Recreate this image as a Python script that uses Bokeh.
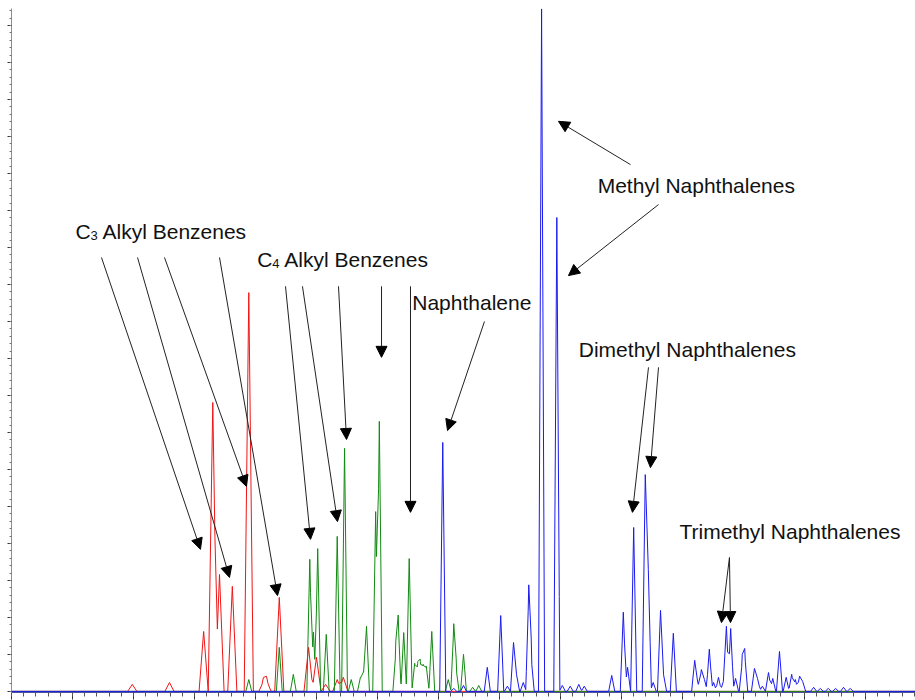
import numpy as np
from bokeh.plotting import figure
from bokeh.models import (Range1d, SingleIntervalTicker, Label, Arrow, NormalHead,
                          CustomJSTickFormatter)
from bokeh.embed import file_html
from bokeh.resources import INLINE

# ---------------- data (retention time in min, peak height in arbitrary units) ----------------
red_rt = [1.98, 2.59, 3.15, 3.30, 3.41, 3.62, 3.89, 4.13, 4.18, 4.39, 4.87, 5.00, 5.15, 5.34, 5.44]
red_h = [0.19, 0.24, 1.62, 7.81, 3.16, 2.84, 10.78, 0.27, 0.32, 2.54, 1.19, 0.92, 0.19, 0.32, 0.38]

green_rt = [3.89, 4.39, 4.62, 4.89, 4.95, 5.02, 5.16, 5.34, 5.46, 5.57, 5.72, 5.77, 5.82,
            5.97, 6.03, 6.30, 6.34, 6.43, 6.52, 6.61, 6.66, 6.70, 6.75, 6.80, 6.89,
            7.16, 7.25, 7.29, 7.41, 7.56, 7.66]
green_h = [0.32, 1.19, 0.46, 3.57, 1.60, 3.86, 1.54, 4.19, 6.57, 0.32, 0.38, 0.54, 1.76,
           4.86, 7.30, 1.05, 1.89, 1.59, 3.59, 0.76, 0.68, 0.76, 0.73, 0.68, 1.62,
           0.32, 1.73, 0.60, 1.00, 0.11, 0.16]

blue_rt = [7.07, 7.25, 7.41, 7.80, 8.02, 8.13, 8.23, 8.28, 8.39, 8.48, 8.52, 8.69, 8.94,
           9.03, 9.16, 9.30, 9.39, 9.84, 10.03, 10.10, 10.20, 10.39, 10.44, 10.52, 10.64,
           10.69, 10.85, 11.20, 11.25, 11.31, 11.36, 11.44, 11.51, 11.59, 11.67, 11.72,
           11.79, 11.87, 11.98, 12.02, 12.18, 12.23, 12.31, 12.41, 12.48, 12.59, 12.70,
           12.79, 12.85, 12.92, 12.97, 13.15, 13.26, 13.39, 13.51, 13.64, 13.75]
blue_h = [6.73, 0.08, 0.16, 0.65, 2.05, 0.14, 1.32, 0.45, 0.24, 2.70, 0.90, 18.45, 12.81,
          0.16, 0.14, 0.19, 0.14, 0.43, 2.14, 0.65, 4.43, 5.86, 3.30, 0.24, 2.19,
          0.45, 1.57, 0.84, 0.24, 0.59, 0.32, 1.14, 0.24, 0.38, 0.27, 1.76,
          1.70, 0.35, 0.80, 1.00, 0.62, 0.35, 0.14, 0.51, 0.35, 1.08, 0.38,
          0.46, 0.32, 0.41, 0.27, 0.11, 0.08, 0.08, 0.08, 0.11, 0.08]

X_END = 14.82
Y_START = -0.03
Y_END = 18.46


def trace(rts, hs, hw):
    """Piecewise-linear chromatogram outline from a peak table (exact vertices)."""
    pts = {0.0, X_END}
    for r in rts:
        pts.update((r - hw, r, r + hw))
    xs = np.array(sorted(q for q in pts if 0.0 <= q <= X_END))
    ys = np.zeros_like(xs)
    for r, h in zip(rts, hs):
        ys += h * np.clip(1.0 - np.abs(xs - r) / hw, 0.0, None)
    return xs, ys


p = figure(width=915, height=700, output_backend="svg", toolbar_location=None,
           x_range=Range1d(0, X_END), y_range=Range1d(Y_START, Y_END),
           min_border_left=11, min_border_right=0, min_border_top=8, min_border_bottom=8)
p.outline_line_color = None
p.grid.visible = False
p.background_fill_color = "white"

# axes
for ax in (p.xaxis[0], p.yaxis[0]):
    ax.formatter = CustomJSTickFormatter(code="return ''")
    ax.major_label_text_font_size = "0px"
    ax.major_label_standoff = 0
    ax.major_tick_in = 0
    ax.minor_tick_in = 0
p.xaxis.ticker = SingleIntervalTicker(interval=1, num_minor_ticks=5)
p.yaxis.ticker = SingleIntervalTicker(interval=1, num_minor_ticks=5)
p.xaxis.major_tick_out = 7
p.xaxis.minor_tick_out = 4
p.xaxis.axis_line_color = "#5050a0"
p.xaxis.major_tick_line_color = "#333333"
p.xaxis.minor_tick_line_color = "#555555"
p.yaxis.major_tick_out = 4
p.yaxis.minor_tick_out = 2
p.yaxis.axis_line_color = "#8c8c8c"
p.yaxis.major_tick_line_color = "#333333"
p.yaxis.minor_tick_line_color = "#777777"

# traces
rx, ry = trace(red_rt, red_h, 0.075)
gx, gy = trace(green_rt, green_h, 0.048)
bx, by = trace(blue_rt, blue_h, 0.05)
p.line(rx, ry, line_color="#f01515", line_width=1)
p.line(gx, gy, line_color="#128a12", line_width=1)
p.line(bx, by, line_color="#1a1aee", line_width=1)

FONT = "Liberation Sans"
FS = "21px"
LIFT = 7  # px


def label(x, y, txt, size=FS, xo=0, yo=0):
    p.add_layout(Label(x=x, y=y, text=txt, text_font=FONT, text_font_size=size,
                       text_color="#111111", text_baseline="alphabetic", text_align="left",
                       x_offset=xo, y_offset=yo + LIFT))


def arrow(x0, y0, x1, y1):
    p.add_layout(Arrow(x_start=x0, y_start=y0, x_end=x1, y_end=y1,
                       line_color="#222222", line_width=1,
                       end=NormalHead(size=11, fill_color="black", line_color="black")))


# C3 alkyl benzenes
label(1.05, 12.24, "C")
label(1.05, 12.24, "3", size="13px", xo=15, yo=-4)
label(1.05, 12.24, "Alkyl Benzenes", xo=27)
arrow(1.475, 11.73, 3.098, 3.84)
arrow(2.066, 11.73, 3.574, 3.08)
arrow(2.508, 11.73, 3.852, 5.54)
arrow(3.41, 11.73, 4.361, 2.59)

# C4 alkyl benzenes
label(4.03, 11.49, "C")
label(4.03, 11.49, "4", size="13px", xo=15, yo=-4)
label(4.03, 11.49, "Alkyl Benzenes", xo=27)
arrow(4.492, 10.95, 4.902, 4.11)
arrow(4.770, 10.95, 5.344, 4.59)
arrow(5.361, 10.95, 5.492, 6.81)
arrow(6.066, 10.95, 6.066, 9.03)
arrow(6.541, 10.95, 6.541, 4.84)

# Naphthalene
label(6.57, 10.32, "Naphthalene")
arrow(7.754, 10.0, 7.148, 7.05)

# Methyl naphthalenes
label(9.61, 13.49, "Methyl Naphthalenes")
arrow(10.148, 14.24, 8.967, 15.41)
arrow(10.607, 13.16, 9.131, 11.24)

# Dimethyl naphthalenes
label(9.30, 9.05, "Dimethyl Naphthalenes")
arrow(10.443, 8.76, 10.18, 4.84)
arrow(10.607, 8.76, 10.475, 6.05)

# Trimethyl naphthalenes
label(10.95, 4.14, "Trimethyl Naphthalenes")
arrow(11.77, 3.62, 11.639, 1.86)
arrow(11.77, 3.62, 11.787, 1.86)

open("out.html", "w").write(file_html(p, INLINE))
